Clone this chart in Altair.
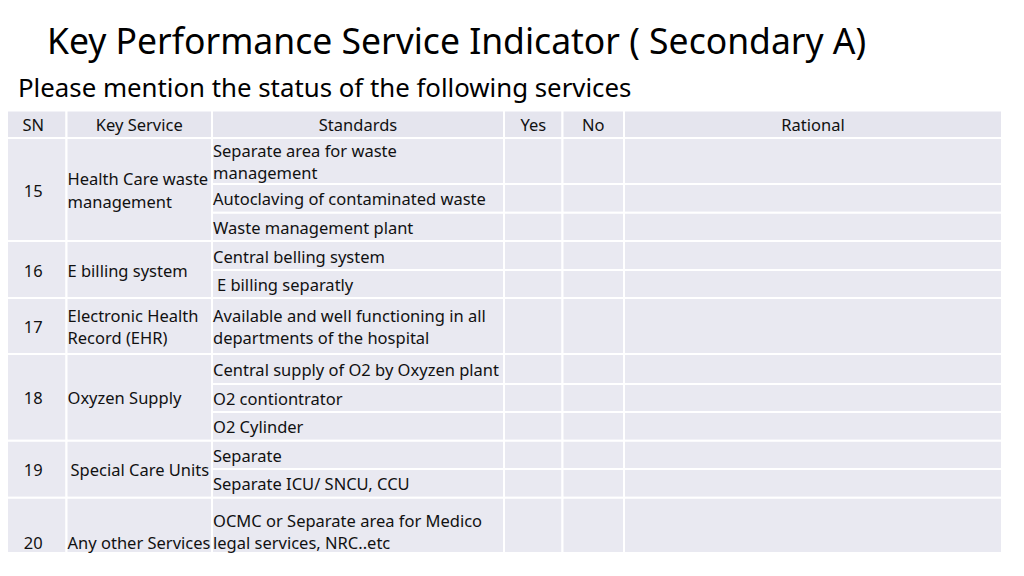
import altair as alt
import pandas as pd

# ---------------- content ----------------
title_text = "Key Performance Service Indicator ( Secondary A)"
subtitle_text = "Please mention the status of the following services"
headers = ["SN", "Key Service", "Standards", "Yes", "No", "Rational"]
sn = ["15", "16", "17", "18", "19", "20"]
key_service = [
    "Health Care waste\nmanagement",
    "E billing system",
    "Electronic Health\nRecord (EHR)",
    "Oxyzen Supply",
    "Special Care Units",
    "Any other Services",
]
standards = [
    ["Separate area for waste\nmanagement", "Autoclaving of contaminated waste", "Waste management plant"],
    ["Central belling system", "E billing separatly"],
    ["Available and well functioning in all\ndepartments of the hospital"],
    ["Central supply of O2 by Oxyzen plant", "O2 contiontrator", "O2 Cylinder"],
    ["Separate", "Separate ICU/ SNCU, CCU"],
    ["OCMC or Separate area for Medico\nlegal services, NRC..etc"],
]

# ---------------- layout ----------------
col_edges = [0, 66.5, 212, 504, 562.5, 624, 1002]
header_top, header_bottom = 110.5, 138
sub_row_heights = [[46, 28.7, 28.3], [29, 28], [56], [30, 28, 28.7], [28.3, 28.7], [55.3]]
valign = ["middle", "middle", "middle", "middle", "middle", "bottom"]
key_indent = [0, 0, 0, 0, 3, 0]
std_indent = [[0, 0, 0], [0, 4], [0], [0, 0, 0], [0, 0], [0]]
FONT = "Noto Sans"
BODY = 16.5
LH = 22.5
HEADER_FILL = "#e5e5ee"
BODY_FILL = "#e9e9f1"

cells = []
center_texts = []
left_texts = []


def text_y(top, bottom, txt, va):
    n = txt.count("\n") + 1
    if va == "bottom":
        return bottom - 9 - (n - 1) * LH
    return (top + bottom) / 2 + 2 - (n - 1) * LH / 2


# header
for i, h in enumerate(headers):
    x0, x1 = col_edges[i], col_edges[i + 1]
    cells.append(dict(x=x0, x2=x1, y=header_top, y2=header_bottom, fill=HEADER_FILL))
    center_texts.append(dict(x=(x0 + x1) / 2, y=(header_top + header_bottom) / 2 + 1.5, t=h))

top = header_bottom
for g in range(len(sn)):
    heights = sub_row_heights[g]
    bottom = top + sum(heights)
    for c in (0, 1):
        cells.append(dict(x=col_edges[c], x2=col_edges[c + 1], y=top, y2=bottom, fill=BODY_FILL))
    center_texts.append(dict(x=(col_edges[0] + col_edges[1]) / 2,
                             y=text_y(top, bottom, sn[g], valign[g]), t=sn[g]))
    left_texts.append(dict(x=col_edges[1] + 1 + key_indent[g],
                           y=text_y(top, bottom, key_service[g], valign[g]), t=key_service[g]))
    st = top
    for k, hgt in enumerate(heights):
        sb = st + hgt
        for c in (2, 3, 4, 5):
            cells.append(dict(x=col_edges[c], x2=col_edges[c + 1], y=st, y2=sb, fill=BODY_FILL))
        left_texts.append(dict(x=col_edges[2] + 1 + std_indent[g][k],
                               y=text_y(st, sb, standards[g][k], valign[g]), t=standards[g][k]))
        st = sb
    top = bottom

cells_df = pd.DataFrame(cells)
ctext_df = pd.DataFrame(center_texts)
ltext_df = pd.DataFrame(left_texts)
titles_df = pd.DataFrame([dict(x=47, y=54, t=title_text)])
sub_df = pd.DataFrame([dict(x=18, y=96.5, t=subtitle_text)])

xs = alt.Scale(domain=[8, 1016], nice=False, zero=False)
ys = alt.Scale(domain=[8, 568], nice=False, zero=False, reverse=True)
X = alt.X("x:Q", scale=xs, axis=None)
Y = alt.Y("y:Q", scale=ys, axis=None)

rects = alt.Chart(cells_df).mark_rect(stroke="white", strokeWidth=2, clip=False).encode(
    x=X, x2="x2:Q", y=Y, y2="y2:Q", fill=alt.Fill("fill:N", scale=None),
)

ctexts = alt.Chart(ctext_df).mark_text(
    font=FONT, fontSize=BODY, align="center", baseline="middle", color="#111111",
    lineBreak="\n", lineHeight=LH,
).encode(x=X, y=Y, text="t:N")

ltexts = alt.Chart(ltext_df).mark_text(
    font=FONT, fontSize=BODY, align="left", baseline="middle", color="#111111",
    lineBreak="\n", lineHeight=LH,
).encode(x=X, y=Y, text="t:N")

title = alt.Chart(titles_df).mark_text(
    font=FONT, fontSize=35.5, align="left", baseline="alphabetic", color="#000000",
).encode(x=X, y=Y, text="t:N")

subtitle = alt.Chart(sub_df).mark_text(
    font=FONT, fontSize=25.8, align="left", baseline="alphabetic", color="#000000",
).encode(x=X, y=Y, text="t:N")

chart = alt.layer(rects, ctexts, ltexts, title, subtitle).properties(
    width=1008, height=560, autosize=alt.AutoSizeParams(type="none"), padding=0,
    background="white",
).configure_view(stroke=None)

chart.save("out.html", embed_options={"renderer": "svg", "actions": False})
